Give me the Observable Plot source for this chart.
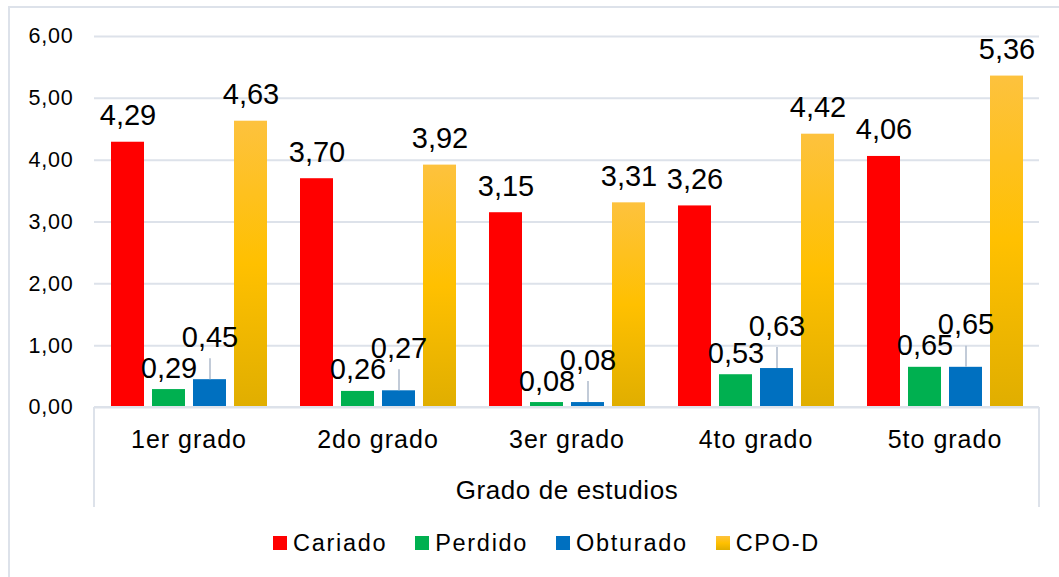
<!DOCTYPE html>
<html>
<head>
<meta charset="utf-8">
<script src="https://cdn.jsdelivr.net/npm/d3@7"></script>
<script src="https://cdn.jsdelivr.net/npm/@observablehq/plot@0.6"></script>
<style>
  body { margin: 0; background: #fff; font-family: "Liberation Sans", Arial, sans-serif; }
  #wrap { position: relative; width: 1059px; height: 577px; overflow: hidden; background: #fff; }
  #frame { position: absolute; left: 8px; top: 6px; width: 1200px; height: 800px; border: 2.5px solid #DDE2EA; box-sizing: border-box; }
  #chart { position: absolute; left: 0; top: 0; }
  #legend { position: absolute; left: 273px; top: 530px; display: flex; align-items: center; font-size: 23.5px; letter-spacing: 1.7px; color: #000; line-height: 26px; }
  #legend .item { display: flex; align-items: center; margin-right: 28px; }
  #legend .sw { width: 14px; height: 14px; margin-right: 6px; }
  g[aria-label="y-axis tick label"] text { letter-spacing: 0.8px; }
  g[aria-label="fx-axis tick label"] text { letter-spacing: 1px; }
  g[aria-label="fx-axis label"] text { letter-spacing: 0.6px; }
</style>
</head>
<body>
<div id="wrap">
  <div id="frame"></div>
  <div id="chart"></div>
  <div id="legend"></div>
</div>
<script>
const grades = ["1er grado", "2do grado", "3er grado", "4to grado", "5to grado"];
const series = ["Cariado", "Perdido", "Obturado", "CPO-D"];
const cariado = [4.29, 3.70, 3.15, 3.26, 4.06];
const perdido = [0.29, 0.26, 0.08, 0.53, 0.65];
const obturado = [0.45, 0.27, 0.08, 0.63, 0.65];
const cpod = [4.63, 3.92, 3.31, 4.42, 5.36];
const yTicks = [0, 1, 2, 3, 4, 5, 6];
const colors = ["#FF0000", "#00B050", "#0070C0", "url(#gold)"];
const goldStops = ["#FDC23E", "#FFC000", "#E0AE00"];
const axisTitle = "Grado de estudios";

const valuesBySeries = [cariado, perdido, obturado, cpod];
const data = grades.flatMap((g, i) =>
  series.map((s, j) => ({grade: g, series: s, value: valuesBySeries[j][i]}))
);
const fmt = v => v.toFixed(2).replace(".", ",");
const gridColor = "#DDE2EA";

const chart = Plot.plot({
  width: 1059,
  height: 520,
  marginLeft: 94,
  marginRight: 20,
  marginTop: 36,
  marginBottom: 113,
  style: {fontFamily: '"Liberation Sans", Arial, sans-serif', color: "#000", background: "transparent", overflow: "visible"},
  fx: {domain: grades, padding: 0},
  x: {domain: series, paddingInner: 0.2, paddingOuter: 0.4, axis: null},
  y: {domain: [0, 6], label: null},
  color: {domain: series, range: colors},
  marks: [
    Plot.gridY(yTicks, {stroke: gridColor, strokeOpacity: 1, strokeWidth: 2}),
    Plot.axisY(yTicks, {tickSize: 0, tickPadding: 21, tickFormat: fmt, fontSize: 21.5, label: null}),
    Plot.axisFx({anchor: "bottom", tickSize: 0, tickPadding: 23, label: axisTitle, labelAnchor: "center", labelOffset: 91, fontSize: 26}),
    Plot.barY(data, {fx: "grade", x: "series", y: "value", fill: "series"}),
    Plot.ruleX(data, {filter: d => d.series === "Obturado", fx: "grade", x: "series", y1: "value", y2: "value", insetTop: -21, stroke: "#AEBACB", strokeWidth: 1.5}),
    Plot.text(data, {filter: d => d.series === "Cariado" || d.series === "CPO-D", fx: "grade", x: "series", y: "value", text: d => fmt(d.value), lineAnchor: "bottom", dy: -17, fontSize: 29}),
    Plot.text(data, {filter: d => d.series === "Perdido", fx: "grade", x: "series", y: "value", text: d => fmt(d.value), lineAnchor: "bottom", dy: -12, fontSize: 29}),
    Plot.text(data, {filter: d => d.series === "Obturado", fx: "grade", x: "series", y: "value", text: d => fmt(d.value), lineAnchor: "bottom", dy: -33, fontSize: 29})
  ]
});

// gradient for CPO-D bars
const svg = d3.select(chart);
const grad = svg.insert("defs", ":first-child").append("linearGradient")
  .attr("id", "gold").attr("x1", 0).attr("y1", 0).attr("x2", 0).attr("y2", 1);
goldStops.forEach((c, i) => grad.append("stop").attr("offset", i / (goldStops.length - 1)).attr("stop-color", c));

// category tick labels at 25px, axis title at 26px
svg.selectAll('g[aria-label="fx-axis tick label"] text').attr("font-size", 25);

// category box: vertical lines at the ends of the category axis
const fxS = chart.scale("fx");
const yS = chart.scale("y");
const x0 = fxS.range[0], x1 = fxS.range[1], yb = yS.range[0];
const box = svg.append("g").attr("stroke", gridColor).attr("stroke-width", 2);
[x0, x1].forEach(xx => box.append("line").attr("x1", xx).attr("x2", xx).attr("y1", yb).attr("y2", yb + 100));
box.append("line").attr("x1", x0).attr("x2", x1).attr("y1", yb).attr("y2", yb);

document.getElementById("chart").appendChild(chart);

// legend
const legend = document.getElementById("legend");
series.forEach((s, i) => {
  const item = document.createElement("div");
  item.className = "item";
  const sw = document.createElement("div");
  sw.className = "sw";
  sw.style.background = colors[i].startsWith("url") ? `linear-gradient(${goldStops.join(",")})` : colors[i];
  const label = document.createElement("span");
  label.textContent = s;
  item.appendChild(sw);
  item.appendChild(label);
  legend.appendChild(item);
});
</script>
</body>
</html>
